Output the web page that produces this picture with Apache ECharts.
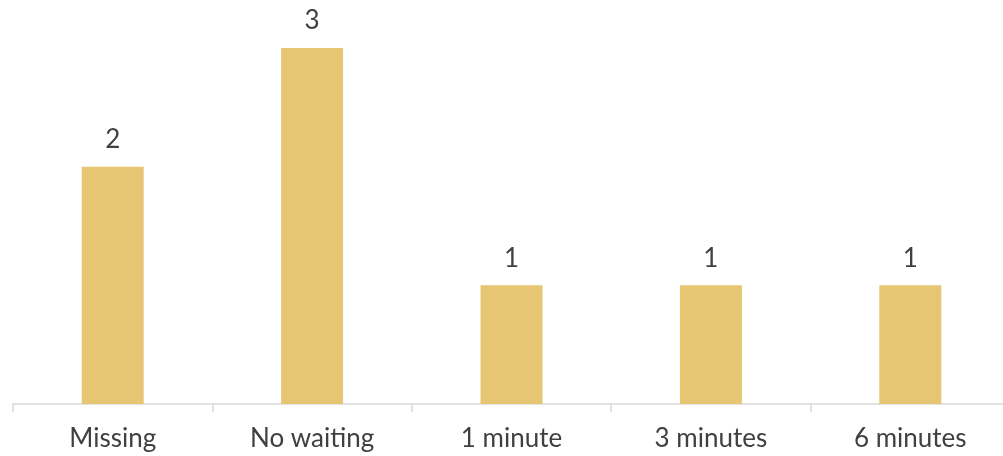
<!DOCTYPE html>
<html>
<head>
<meta charset="utf-8">
<script src="https://cdn.jsdelivr.net/npm/echarts@6/dist/echarts.min.js"></script>
<style>
  html, body { margin: 0; padding: 0; background: #fff; overflow: hidden; }
  #chart { width: 1010px; height: 456px; }
</style>
</head>
<body>
<div id="chart"></div>
<script>
  // 数据
  const categories = ['Missing', 'No waiting', '1 minute', '3 minutes', '6 minutes'];
  const counts = [2, 3, 1, 1, 1];

  const chart = echarts.init(document.getElementById('chart'));

  chart.setOption({
    animation: false,
    textStyle: { fontFamily: 'Lato, Open Sans, sans-serif' },
    grid: { left: 13, right: 0, top: 48, bottom: 52 },
    xAxis: {
      type: 'category',
      data: categories,
      axisLine: { lineStyle: { color: '#d9d9d9', width: 1.5 } },
      axisTick: { show: true, length: 8, alignWithLabel: false, lineStyle: { color: '#d9d9d9', width: 1.5 } },
      axisLabel: { color: '#404040', fontSize: 26, margin: 22 }
    },
    yAxis: {
      type: 'value',
      min: 0,
      max: 3,
      show: false,
      splitLine: { show: false }
    },
    series: [{
      type: 'bar',
      data: counts,
      barWidth: 62,
      itemStyle: { color: '#e6c673' },
      label: {
        show: true,
        position: 'top',
        distance: 14,
        color: '#404040',
        fontSize: 26
      }
    }]
  });
</script>
</body>
</html>
